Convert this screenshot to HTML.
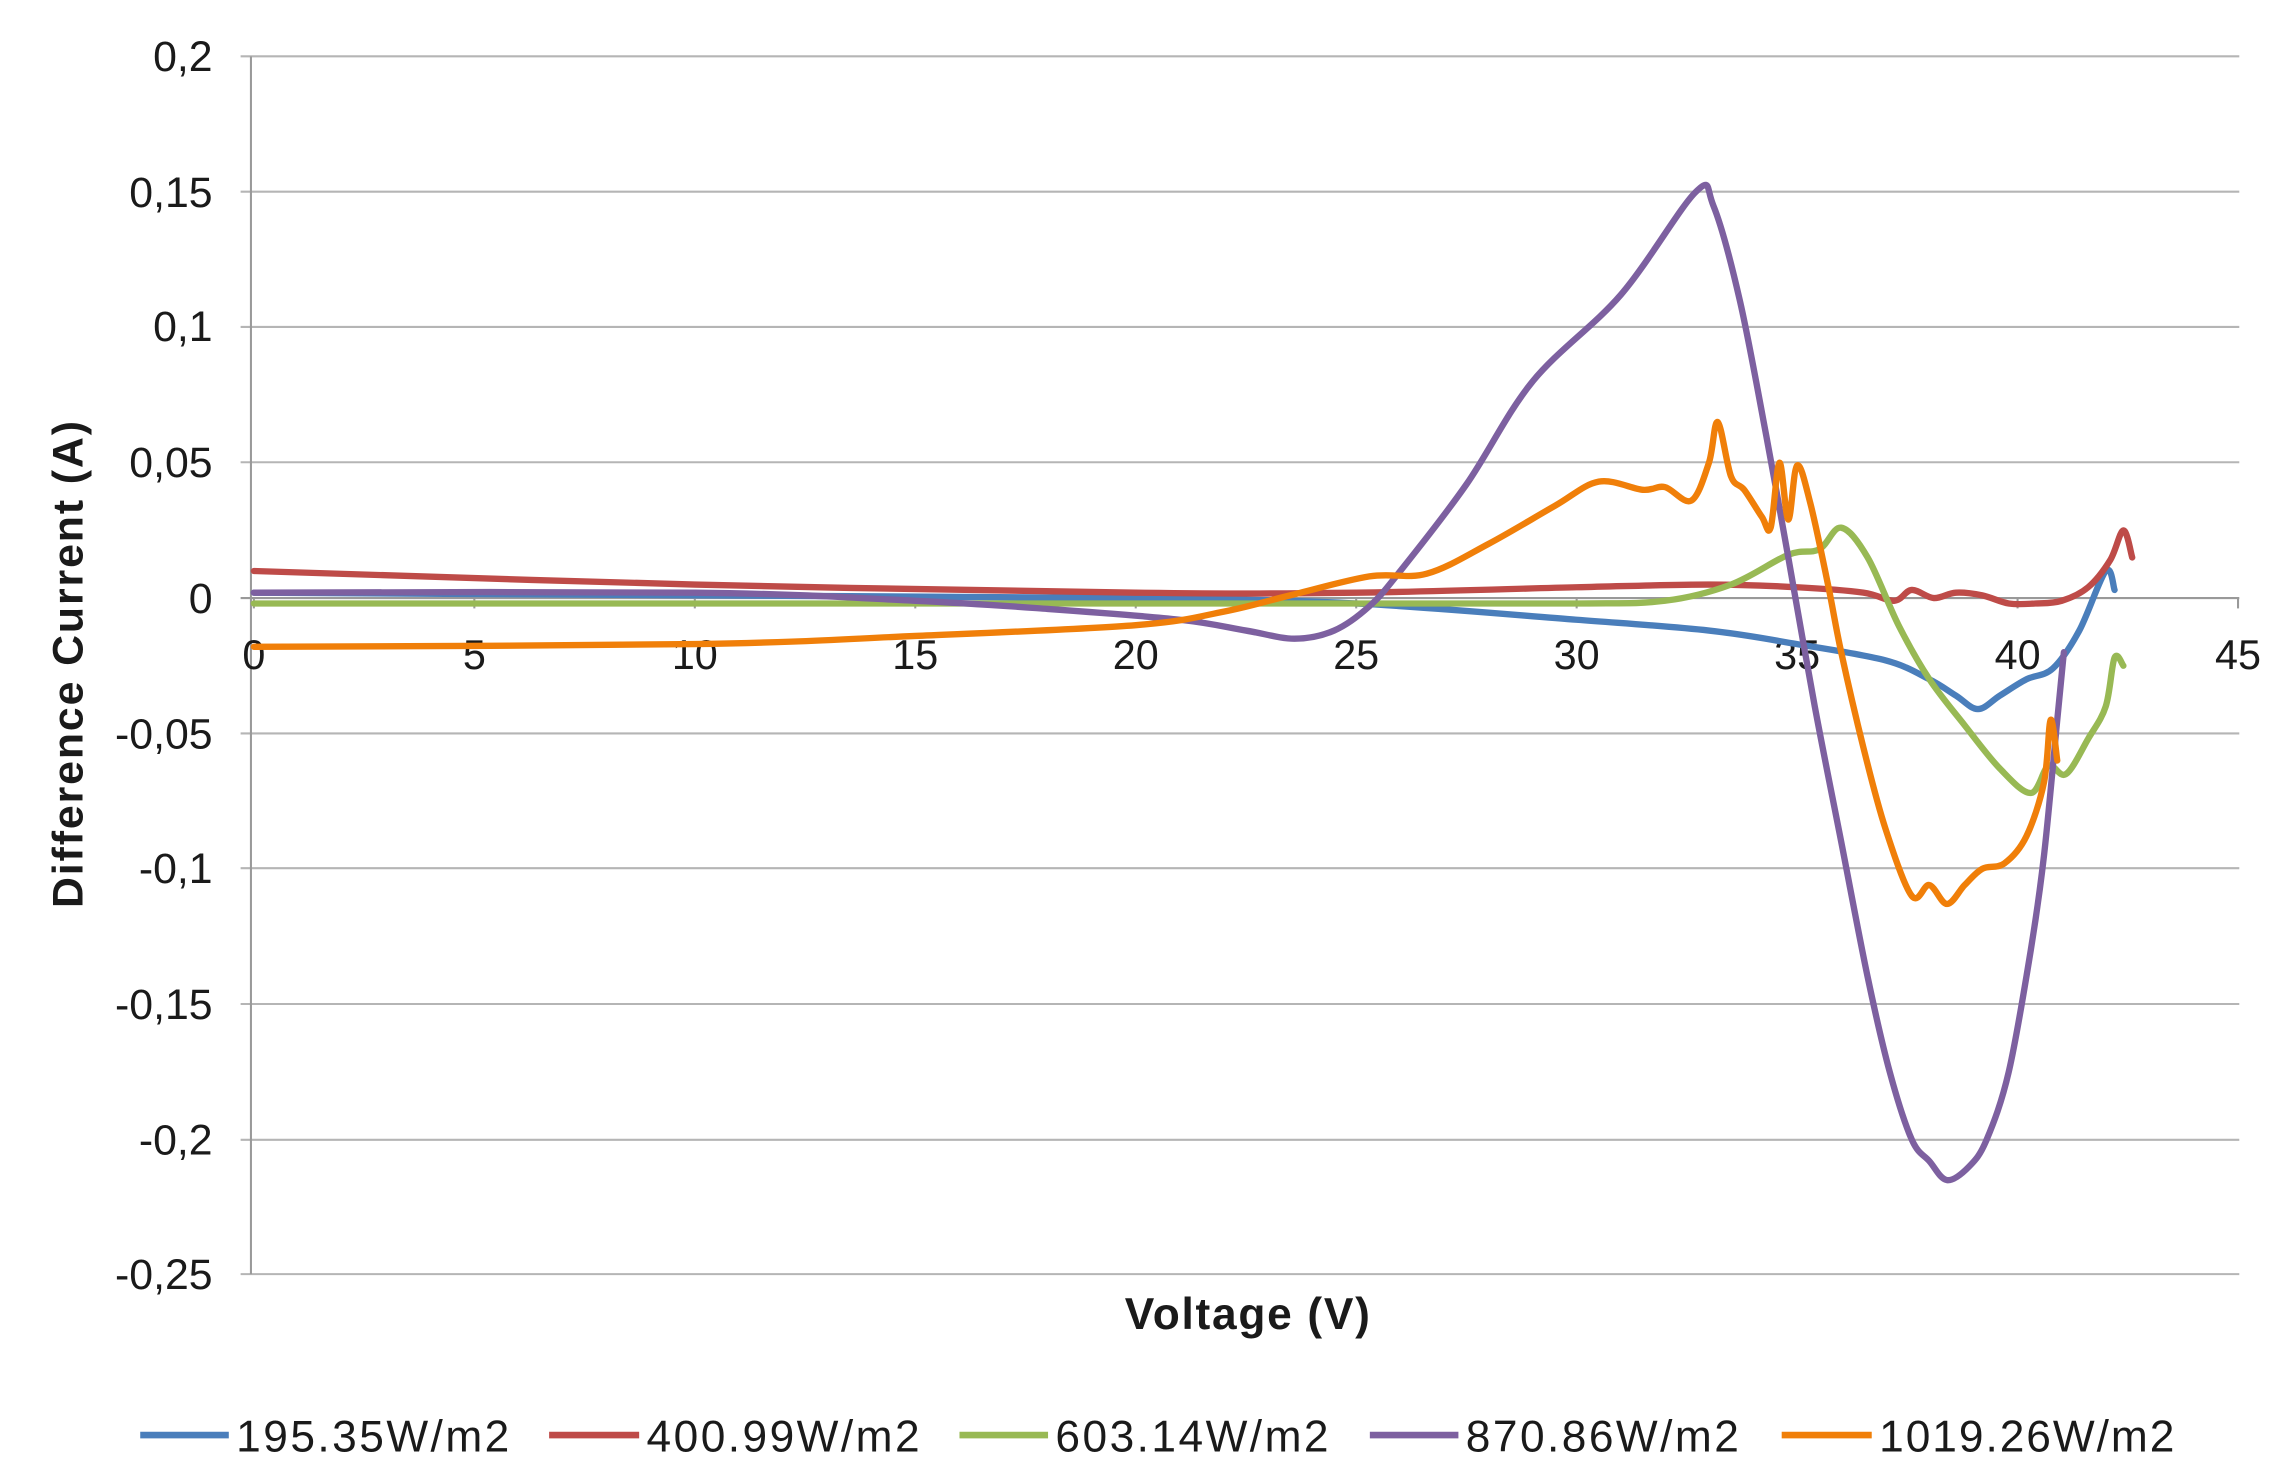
<!DOCTYPE html>
<html><head><meta charset="utf-8"><style>
html,body{margin:0;padding:0;background:#fff;}
svg{display:block;}
text{font-family:"Liberation Sans",sans-serif;fill:#1a1a1a;}
</style></head><body>
<svg id="c" width="2288" height="1484" viewBox="0 0 1550 1005" xmlns="http://www.w3.org/2000/svg">
<g stroke="#b5b5b5" stroke-width="1.4">
<line x1="163" y1="38" x2="1517" y2="38"/>
<line x1="163" y1="129.7" x2="1517" y2="129.7"/>
<line x1="163" y1="221.3" x2="1517" y2="221.3"/>
<line x1="163" y1="313" x2="1517" y2="313"/>
<line x1="163" y1="588" x2="1517" y2="588"/>
<line x1="163" y1="680" x2="1517" y2="680"/>
<line x1="163" y1="772" x2="1517" y2="772"/>
<line x1="163" y1="863" x2="1517" y2="863"/>
<line x1="163" y1="496.7" x2="1517" y2="496.7"/>
<line x1="170" y1="38" x2="170" y2="863" stroke="#999"/>
<line x1="163" y1="405" x2="1517" y2="405" stroke="#999"/>
</g>
<g stroke="#999" stroke-width="1.4" id="ticks"></g>
<g font-size="29" text-anchor="end">
<text x="144" y="48">0,2</text>
<text x="144" y="140">0,15</text>
<text x="144" y="231">0,1</text>
<text x="144" y="323">0,05</text>
<text x="144" y="415">0</text>
<text x="144" y="507">-0,05</text>
<text x="144" y="598">-0,1</text>
<text x="144" y="690">-0,15</text>
<text x="144" y="782">-0,2</text>
<text x="144" y="873">-0,25</text>
</g>
<g font-size="28" text-anchor="middle" id="xl"></g>
<g id="series" fill="none" stroke-width="4.3" stroke-linejoin="round" stroke-linecap="round"></g>
<text x="845" y="900" font-size="30" font-weight="bold" text-anchor="middle" textLength="166">Voltage (V)</text>
<text transform="translate(56,450) rotate(-90)" font-size="29" font-weight="bold" text-anchor="middle" textLength="330">Difference Current (A)</text>
<g stroke-width="4.5">
<line x1="95" y1="972" x2="155" y2="972" stroke="#4a7ebb"/>
<line x1="372" y1="972" x2="433" y2="972" stroke="#be4b48"/>
<line x1="650" y1="972" x2="710" y2="972" stroke="#98b954"/>
<line x1="928" y1="972" x2="988" y2="972" stroke="#7d60a0"/>
<line x1="1207" y1="972" x2="1268" y2="972" stroke="#f07f09"/>
</g>
<g font-size="30">
<text x="160" y="983" textLength="185">195.35W/m2</text>
<text x="438" y="983" textLength="185">400.99W/m2</text>
<text x="715" y="983" textLength="185">603.14W/m2</text>
<text x="993" y="983" textLength="185">870.86W/m2</text>
<text x="1273" y="983" textLength="200">1019.26W/m2</text>
</g>
</svg>
<script>
var X=function(v){return 172+v*29.87;}, Y=function(v){return 405-v*1834;};
var NS="http://www.w3.org/2000/svg";
var tk=document.getElementById('ticks'), xl=document.getElementById('xl');
for(var i=0;i<=9;i++){var x=X(i*5);
 var l=document.createElementNS(NS,'line');l.setAttribute('x1',x);l.setAttribute('x2',x);l.setAttribute('y1',405);l.setAttribute('y2',412);tk.appendChild(l);
 var t=document.createElementNS(NS,'text');t.setAttribute('x',x);t.setAttribute('y',453);t.textContent=String(i*5);xl.appendChild(t);}
var S=[
["#4a7ebb",[[0,0.002],[10,0.001],[20,0],[25,-0.002],[30,-0.008],[33,-0.012],[35,-0.017],[37,-0.023],[38,-0.03],[38.6,-0.036],[39.1,-0.041],[39.6,-0.036],[40.2,-0.03],[40.8,-0.026],[41.4,-0.012],[42,0.01],[42.2,0.003]]],
["#be4b48",[[0,0.01],[10,0.005],[20,0.002],[25,0.002],[30,0.004],[33,0.005],[35,0.004],[36.5,0.002],[37.2,-0.001],[37.6,0.003],[38.1,0],[38.6,0.002],[39.2,0.001],[39.8,-0.002],[40.4,-0.002],[41,-0.001],[41.6,0.004],[42.1,0.014],[42.4,0.025],[42.6,0.015]]],
["#98b954",[[0,-0.002],[15,-0.002],[25,-0.002],[30,-0.002],[32,-0.001],[33.5,0.005],[34.8,0.016],[35.5,0.018],[36,0.026],[36.6,0.015],[37.3,-0.01],[38,-0.03],[38.8,-0.047],[39.6,-0.063],[40.3,-0.072],[40.7,-0.062],[41.1,-0.065],[41.6,-0.052],[42,-0.04],[42.2,-0.022],[42.4,-0.025]]],
["#7d60a0",[[0,0.002],[10,0.002],[15,-0.001],[18,-0.004],[21,-0.008],[22.5,-0.012],[23.6,-0.015],[24.5,-0.012],[25.3,-0.003],[26,0.01],[27.5,0.042],[29,0.08],[31,0.112],[32.7,0.15],[33.1,0.145],[33.7,0.11],[34.3,0.06],[34.8,0.015],[35.4,-0.04],[36,-0.09],[36.6,-0.14],[37.1,-0.175],[37.6,-0.2],[38,-0.208],[38.4,-0.215],[38.9,-0.21],[39.3,-0.2],[39.8,-0.175],[40.3,-0.13],[40.6,-0.095],[40.9,-0.045],[41.05,-0.02]]],
["#f07f09",[[0,-0.018],[10,-0.017],[15,-0.014],[20,-0.01],[22,-0.005],[23.5,0.001],[25.3,0.008],[26.6,0.009],[28,0.02],[29.5,0.034],[30.5,0.043],[31.5,0.04],[32,0.041],[32.6,0.036],[33,0.05],[33.2,0.065],[33.5,0.045],[33.8,0.04],[34.2,0.03],[34.4,0.026],[34.6,0.05],[34.8,0.029],[35,0.049],[35.3,0.035],[35.7,0.005],[36,-0.02],[36.5,-0.055],[37,-0.085],[37.6,-0.11],[38,-0.106],[38.4,-0.113],[38.8,-0.106],[39.2,-0.1],[39.7,-0.098],[40.2,-0.088],[40.6,-0.068],[40.75,-0.045],[40.9,-0.06]]]
];
var g=document.getElementById('series');
S.forEach(function(s){var p=s[1].map(function(q){return [X(q[0]),Y(q[1])];});
 var d="M"+p[0][0]+","+p[0][1];
 for(var i=0;i<p.length-1;i++){var p0=p[i-1]||p[i],p1=p[i],p2=p[i+1],p3=p[i+2]||p2;
  var c1=[p1[0]+(p2[0]-p0[0])/6,p1[1]+(p2[1]-p0[1])/6],c2=[p2[0]-(p3[0]-p1[0])/6,p2[1]-(p3[1]-p1[1])/6];
  d+=" C"+c1+" "+c2+" "+p2;}
 var e=document.createElementNS(NS,'path');e.setAttribute('d',d);e.setAttribute('stroke',s[0]);g.appendChild(e);});
</script>
</body></html>
